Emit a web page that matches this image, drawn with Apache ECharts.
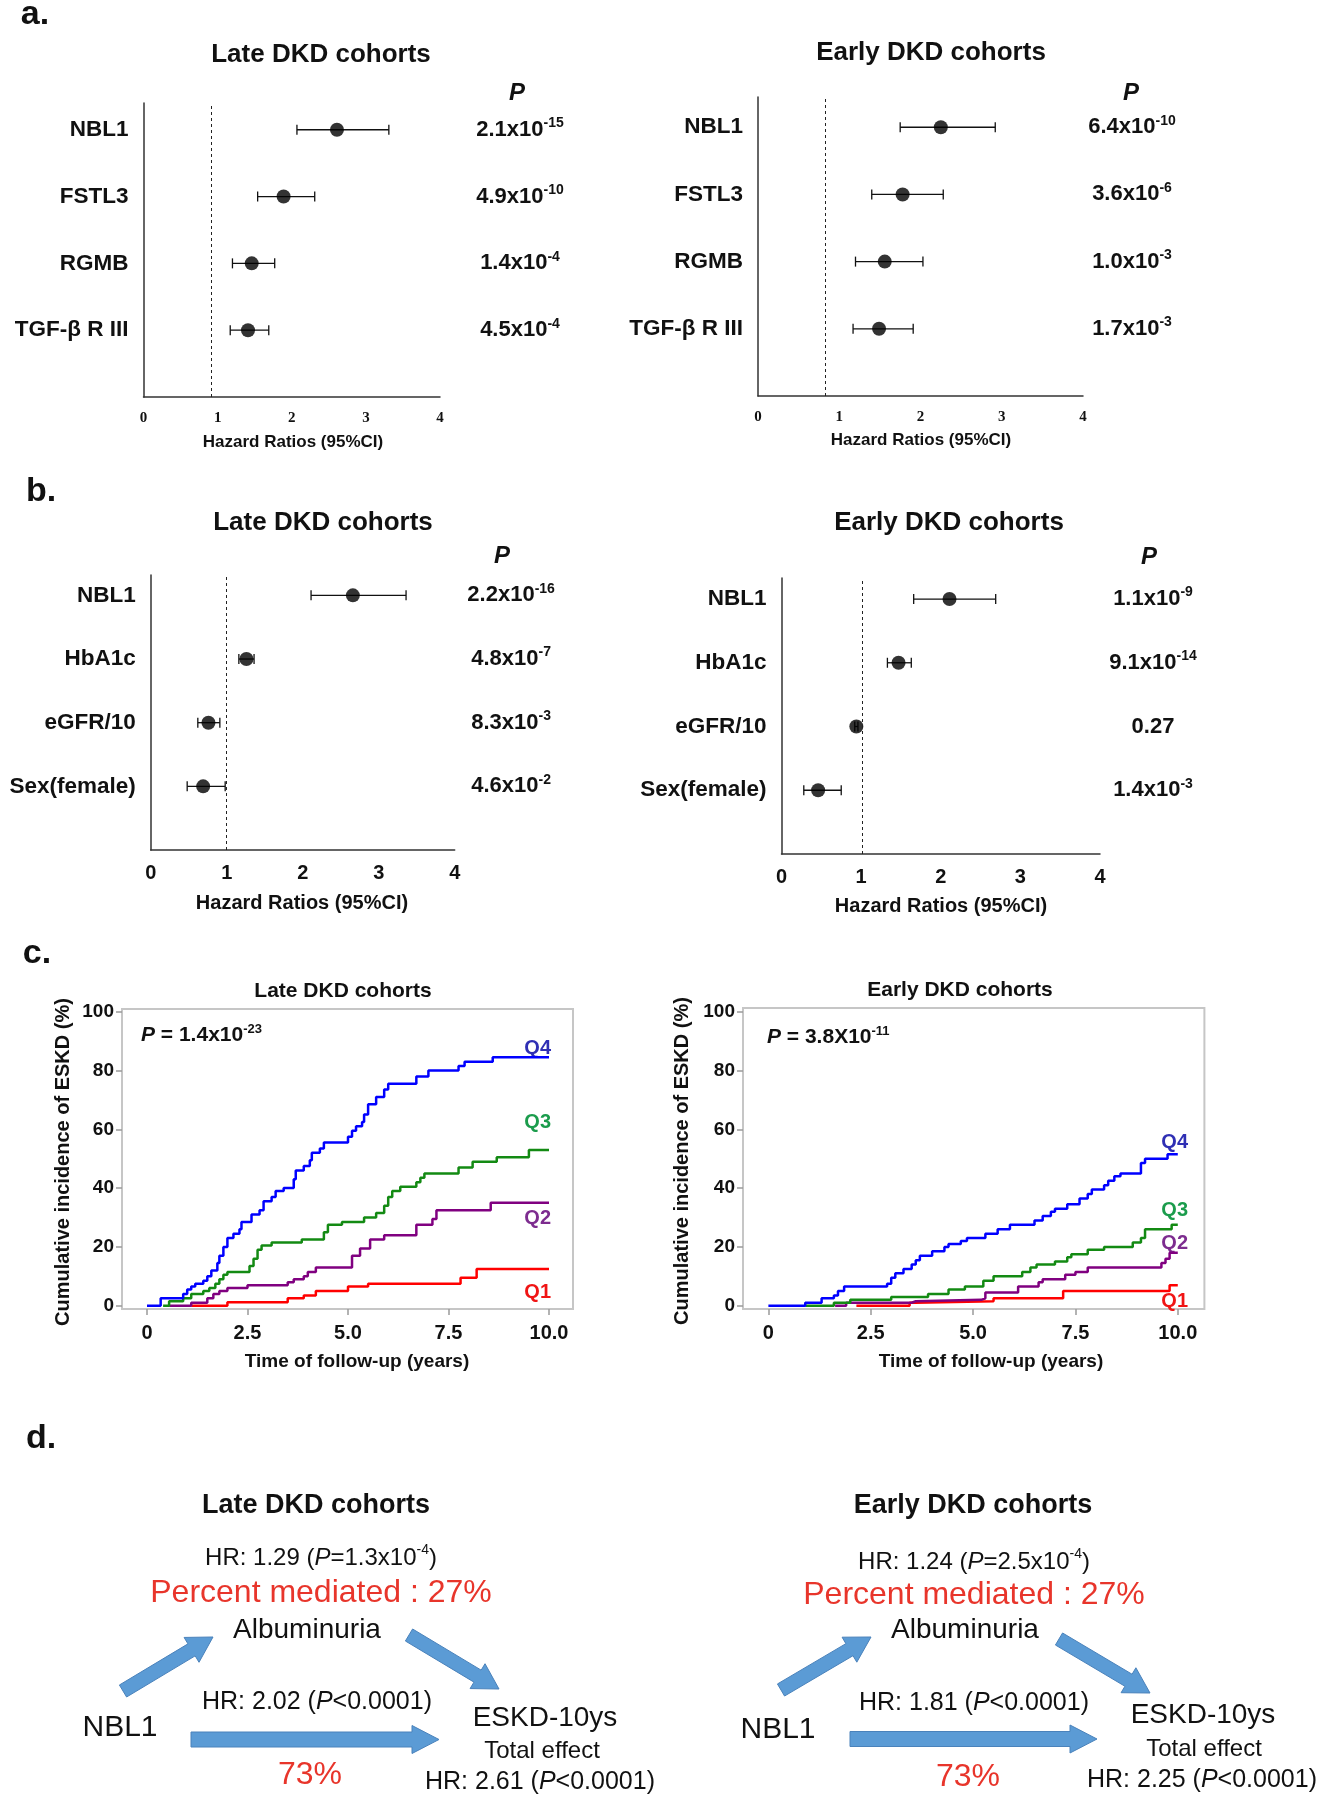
<!DOCTYPE html>
<html><head><meta charset="utf-8">
<script src="https://cdn.jsdelivr.net/npm/echarts@6/dist/echarts.min.js"></script>
<style>html,body{margin:0;padding:0;background:#fff}#c{width:1324px;height:1800px}</style>
</head><body><div id="c"></div>
<script>
// ---------- DATA ----------
const namesA = ['NBL1', 'FSTL3', 'RGMB', 'TGF-β R III'];
const namesB = ['NBL1', 'HbA1c', 'eGFR/10', 'Sex(female)'];
const rowPos = [4, 3, 2, 1];

const aLateHR = [2.61, 1.89, 1.46, 1.41];
const aLateLo = [2.07, 1.54, 1.20, 1.17];
const aLateHi = [3.31, 2.31, 1.77, 1.69];
const aLateP = ['2.1x10^-15', '4.9x10^-10', '1.4x10^-4', '4.5x10^-4'];
const aLateRef = 0.91;

const aEarlyHR = [2.25, 1.78, 1.56, 1.49];
const aEarlyLo = [1.75, 1.40, 1.20, 1.17];
const aEarlyHi = [2.92, 2.28, 2.03, 1.91];
const aEarlyP = ['6.4x10^-10', '3.6x10^-6', '1.0x10^-3', '1.7x10^-3'];
const aEarlyRef = 0.83;

const bLateHR = [2.66, 1.26, 0.76, 0.69];
const bLateLo = [2.11, 1.16, 0.62, 0.48];
const bLateHi = [3.36, 1.36, 0.91, 0.98];
const bLateP = ['2.2x10^-16', '4.8x10^-7', '8.3x10^-3', '4.6x10^-2'];
const bLateRef = 1.0;

const bEarlyHR = [2.11, 1.47, 0.94, 0.46];
const bEarlyLo = [1.66, 1.33, 0.92, 0.28];
const bEarlyHi = [2.69, 1.63, 0.96, 0.75];
const bEarlyP = ['1.1x10^-9', '9.1x10^-14', '0.27', '1.4x10^-3'];
const bEarlyRef = 1.02;

const kmXTicks = [0, 2.5, 5, 7.5, 10];
const kmYTicks = [0, 20, 40, 60, 80, 100];
const kmQuartiles = ['Q4', 'Q3', 'Q2', 'Q1'];
const lateQ4 = [[0,0],[0.34,2.5],[0.9,4],[1.0,5.5],[1.1,6.5],[1.2,7.5],[1.4,8.5],[1.5,10],[1.6,12],[1.75,14.5],[1.8,17],[1.9,20],[2.0,23],[2.15,24.5],[2.3,26],[2.35,28.5],[2.6,31],[2.8,32.5],[2.9,35.5],[3.1,37],[3.2,39],[3.4,40],[3.65,43],[3.7,46],[3.9,47.5],[4.05,49.5],[4.1,52],[4.3,53.5],[4.4,55.5],[5.0,57.5],[5.1,59.5],[5.2,61],[5.35,62.5],[5.4,65],[5.5,68.5],[5.7,71],[5.9,73.5],[6.0,75.5],[6.7,78],[7.0,80],[7.75,81.5],[7.9,83],[8.6,84.5],[10,84.5]];
const lateQ3 = [[0.4,0],[0.55,1.5],[0.9,2.5],[1.1,4],[1.4,5],[1.55,6],[1.7,7.5],[1.8,9],[1.9,10.5],[2.0,11.5],[2.55,13.5],[2.65,16],[2.75,19],[2.85,20.5],[3.1,21.5],[3.85,22.5],[4.4,25],[4.5,27.5],[4.85,28.5],[5.4,30],[5.7,31.5],[5.9,34],[6.0,37],[6.1,39],[6.3,40.5],[6.7,42],[6.8,43.5],[6.9,45],[7.75,47],[8.1,49],[8.7,50.5],[9.5,53],[10,53]];
const lateQ2 = [[0.55,0],[1.1,1],[1.5,2.5],[1.65,4],[1.8,5],[2.0,6],[2.5,7],[3.5,8],[3.65,9],[3.9,10],[4.0,11.5],[4.2,13],[5.1,17],[5.3,19.5],[5.55,22.5],[5.9,24],[6.7,27.5],[7.1,29.5],[7.2,32.5],[8.55,35],[10,35]];
const lateQ1 = [[1.1,0],[2.0,1.2],[3.5,2.5],[3.9,3.5],[4.2,5],[5.0,6.5],[5.5,7.5],[7.8,9.5],[8.2,12.5],[10,12.5]];

const earlyQ4 = [[0,0],[0.9,1],[1.3,2.5],[1.6,3.5],[1.7,5],[1.85,6.5],[2.9,7.5],[3.0,9.5],[3.1,11],[3.3,12.5],[3.5,14],[3.6,15.5],[3.7,17],[4.0,18.5],[4.3,20],[4.4,21],[4.7,22],[4.85,23],[5.3,24.5],[5.6,26],[5.9,27.5],[6.5,29],[6.7,30.5],[6.9,32],[7.0,33],[7.3,34.5],[7.6,36.5],[7.8,38],[7.9,39.5],[8.2,41],[8.3,42.5],[8.45,44],[8.6,45],[9.1,48.5],[9.2,50],[9.75,51.5],[10,51.5]];
const earlyQ3 = [[0.9,0],[1.6,1],[2.0,2],[3.0,3],[3.9,4],[4.4,5.5],[4.8,6.5],[5.25,8.5],[5.5,10],[6.2,11.5],[6.4,13],[6.55,14],[7.0,15],[7.3,16.5],[7.4,17.5],[7.8,19],[8.2,20],[8.9,21.5],[9.1,23],[9.2,26],[9.85,27.5],[10,27.5]];
const earlyQ2 = [[1.63,0],[1.9,1],[3.5,1.5],[3.6,2],[5.2,2.5],[5.3,4.5],[6.1,6.5],[6.6,8],[6.7,9],[7.25,10.5],[7.5,11.5],[7.8,13],[9.6,14.5],[9.7,16],[9.8,18],[10,18]];
const earlyQ1 = [[2.15,0],[3.45,1],[3.6,1.5],[5.5,2.5],[7.2,5],[9.8,7],[10,7]];

// ---------- STYLE ----------
const FONT = '"Liberation Sans", Arial, Helvetica, sans-serif';
const SERIF = '"Liberation Serif", "Times New Roman", serif';
const kmLineColors = ['#0000ff', '#138a13', '#800080', '#ff0000'];
const kmLabelColors = ['#2f2fb4', '#1b9c4c', '#7d2c8f', '#f01414'];
const RED = '#e8352b';

function forestX(gi, serif) {
  return {gridIndex: gi, type: 'value', min: 0, max: 4, interval: 1,
    axisLine: {show: true, lineStyle: {color: '#333', width: 1.5}},
    axisTick: {show: false}, splitLine: {show: false},
    axisLabel: {margin: serif ? 14 : 13, fontSize: serif ? 15 : 20, fontWeight: 'bold', color: '#111', fontFamily: serif ? SERIF : FONT}};
}
function forestY(gi, max, names) {
  return {gridIndex: gi, type: 'value', min: 0, max: max, interval: 1,
    axisLine: {show: true, onZero: false, lineStyle: {color: '#333', width: 1.5}},
    axisTick: {show: false}, splitLine: {show: false},
    axisLabel: {margin: 15, fontSize: 22.5, fontWeight: 'bold', color: '#111', fontFamily: FONT,
      formatter: v => { const i = rowPos.indexOf(v); return i >= 0 ? names[i] : ''; }}};
}
function pAxis(gi, max, pList, offset) {
  return {gridIndex: gi, type: 'value', position: 'right', offset: offset, min: 0, max: max, interval: 1,
    axisLine: {show: false}, axisTick: {show: false}, splitLine: {show: false},
    axisLabel: {margin: 0, align: 'center',
      formatter: v => {
        const i = rowPos.indexOf(v); if (i < 0) return '';
        const parts = pList[i].split('^');
        return parts.length > 1 ? '{b|' + parts[0] + '}{s|' + parts[1] + '}' : '{b|' + parts[0] + '}';
      },
      rich: {
        b: {fontSize: 22, fontWeight: 'bold', fontFamily: FONT, color: '#111', lineHeight: 27},
        s: {fontSize: 14, fontWeight: 'bold', fontFamily: FONT, color: '#111', lineHeight: 15, verticalAlign: 'top'}
      }}};
}
function errorBars(gi, lo, hi) {
  return {type: 'custom', xAxisIndex: gi, yAxisIndex: gi, silent: true, z: 2,
    data: lo.map((l, i) => [l, hi[i], rowPos[i]]),
    encode: {x: [0, 1], y: 2},
    renderItem: (params, api) => {
      const y = api.value(2);
      const a = api.coord([api.value(0), y]);
      const b = api.coord([api.value(1), y]);
      const st = () => ({stroke: '#111', lineWidth: 1.3});
      return {type: 'group', children: [
        {type: 'line', shape: {x1: a[0], y1: a[1], x2: b[0], y2: b[1]}, style: st()},
        {type: 'line', shape: {x1: a[0], y1: a[1] - 5, x2: a[0], y2: a[1] + 5}, style: st()},
        {type: 'line', shape: {x1: b[0], y1: b[1] - 5, x2: b[0], y2: b[1] + 5}, style: st()}
      ]};
    }};
}
function points(gi, hr, ref) {
  return {type: 'scatter', xAxisIndex: gi, yAxisIndex: gi, z: 3, symbolSize: 14,
    itemStyle: {color: '#000'},
    data: hr.map((h, i) => [h, rowPos[i]]),
    markLine: {silent: true, symbol: 'none', label: {show: false},
      lineStyle: {color: '#222', type: [3, 3], width: 1}, data: [{xAxis: ref}]}};
}
function kmX(gi, min, max) {
  return {gridIndex: gi, type: 'value', min: min, max: max,
    axisLine: {show: false, onZero: false}, splitLine: {show: false},
    axisTick: {show: true, length: 6, customValues: kmXTicks, lineStyle: {color: '#9a9a9a', width: 1.5}},
    axisLabel: {customValues: kmXTicks, margin: 14, fontSize: 20, fontWeight: 'bold', color: '#111', fontFamily: FONT,
      formatter: v => v === 0 ? '0' : v.toFixed(1)}};
}
function kmY(gi, min, max) {
  return {gridIndex: gi, type: 'value', min: min, max: max,
    axisLine: {show: false, onZero: false}, splitLine: {show: false},
    axisTick: {show: true, length: 6, customValues: kmYTicks, lineStyle: {color: '#9a9a9a', width: 1.5}},
    axisLabel: {customValues: kmYTicks, margin: 8, fontSize: 19, fontWeight: 'bold', color: '#111', fontFamily: FONT}};
}
function kmLine(gi, data, idx) {
  return {type: 'line', xAxisIndex: gi, yAxisIndex: gi + 4, step: 'end', showSymbol: false, symbol: 'none',
    data: data, lineStyle: {color: kmLineColors[idx], width: 2.5}, itemStyle: {color: kmLineColors[idx]}, silent: true};
}

// ---------- GRAPHIC HELPERS ----------
function tok(size, color, bold, italic, sup) {
  const o = {fontSize: size, fontFamily: FONT, fontWeight: bold ? 'bold' : 'normal', fontStyle: italic ? 'italic' : 'normal', fill: color};
  if (sup) { o.verticalAlign = 'top'; o.lineHeight = size + 1; } else { o.lineHeight = Math.round(size * 1.2); }
  return o;
}
function richSet(size, color, bold) {
  return {n: tok(size, color, bold, false, false), i: tok(size, color, bold, true, false), s: tok(Math.round(size * 0.6), color, bold, false, true)};
}
function T(x, y, text, size, o) {
  o = o || {};
  const style = {text: text, fontSize: size, fontFamily: o.family || FONT, fontWeight: o.bold ? 'bold' : 'normal',
    fontStyle: o.italic ? 'italic' : 'normal', fill: o.color || '#111', align: o.align || 'center', verticalAlign: 'middle'};
  if (o.rich) style.rich = richSet(size, o.color || '#111', o.bold);
  const el = {type: 'text', x: x, y: y, style: style, silent: true};
  if (o.rotation) el.rotation = o.rotation;
  return el;
}
function arrow(tail, tip, sw, hw, hl) {
  const dx = tip[0] - tail[0], dy = tip[1] - tail[1];
  const L = Math.sqrt(dx * dx + dy * dy);
  const ux = dx / L, uy = dy / L, px = -uy, py = ux;
  const bx = tip[0] - ux * hl, by = tip[1] - uy * hl;
  const pts = [
    [tail[0] + px * sw / 2, tail[1] + py * sw / 2],
    [bx + px * sw / 2, by + py * sw / 2],
    [bx + px * hw / 2, by + py * hw / 2],
    [tip[0], tip[1]],
    [bx - px * hw / 2, by - py * hw / 2],
    [bx - px * sw / 2, by - py * sw / 2],
    [tail[0] - px * sw / 2, tail[1] - py * sw / 2]
  ];
  return {type: 'polygon', shape: {points: pts}, style: {fill: '#5b9bd5', stroke: '#4a82bb', lineWidth: 1}, silent: true};
}

const graphics = [
  // section letters
  T(35, 15, 'a.', 34, {bold: true}),
  T(41, 492, 'b.', 34, {bold: true}),
  T(37, 954, 'c.', 34, {bold: true}),
  T(41, 1439, 'd.', 34, {bold: true}),
  // panel a
  T(321, 55, 'Late DKD cohorts', 26, {bold: true}),
  T(931, 53, 'Early DKD cohorts', 26, {bold: true}),
  T(517, 93, 'P', 24, {bold: true, italic: true}),
  T(1131, 93, 'P', 24, {bold: true, italic: true}),
  T(293, 442, 'Hazard Ratios (95%CI)', 17, {bold: true}),
  T(921, 440, 'Hazard Ratios (95%CI)', 17, {bold: true}),
  // panel b
  T(323, 523, 'Late DKD cohorts', 26, {bold: true}),
  T(949, 523, 'Early DKD cohorts', 26, {bold: true}),
  T(502, 556, 'P', 24, {bold: true, italic: true}),
  T(1149, 557, 'P', 24, {bold: true, italic: true}),
  T(302, 903, 'Hazard Ratios (95%CI)', 20, {bold: true}),
  T(941, 906, 'Hazard Ratios (95%CI)', 20, {bold: true}),
  // panel c
  T(343, 991, 'Late DKD cohorts', 21, {bold: true}),
  T(960, 990, 'Early DKD cohorts', 21, {bold: true}),
  T(141, 1035, '{i|P}{n| = 1.4x10}{s|-23}', 21, {bold: true, rich: true, align: 'left'}),
  T(767, 1037, '{i|P}{n| = 3.8X10}{s|-11}', 21, {bold: true, rich: true, align: 'left'}),
  T(63, 1162, 'Cumulative incidence of ESKD (%)', 20, {bold: true, rotation: Math.PI / 2}),
  T(682, 1161, 'Cumulative incidence of ESKD (%)', 20, {bold: true, rotation: Math.PI / 2}),
  T(357, 1362, 'Time of follow-up (years)', 19, {bold: true}),
  T(991, 1362, 'Time of follow-up (years)', 19, {bold: true}),
  T(551, 1048, kmQuartiles[0], 20, {bold: true, align: 'right', color: kmLabelColors[0]}),
  T(551, 1122, kmQuartiles[1], 20, {bold: true, align: 'right', color: kmLabelColors[1]}),
  T(551, 1218, kmQuartiles[2], 20, {bold: true, align: 'right', color: kmLabelColors[2]}),
  T(551, 1292, kmQuartiles[3], 20, {bold: true, align: 'right', color: kmLabelColors[3]}),
  T(1188, 1142, kmQuartiles[0], 20, {bold: true, align: 'right', color: kmLabelColors[0]}),
  T(1188, 1210, kmQuartiles[1], 20, {bold: true, align: 'right', color: kmLabelColors[1]}),
  T(1188, 1243, kmQuartiles[2], 20, {bold: true, align: 'right', color: kmLabelColors[2]}),
  T(1188, 1301, kmQuartiles[3], 20, {bold: true, align: 'right', color: kmLabelColors[3]}),
  // panel d - left
  arrow([123, 1691], [213, 1637], 14, 29, 25),
  arrow([409, 1635], [499, 1689], 14, 29, 25),
  arrow([191, 1739.5], [439, 1739.5], 15, 28, 27),
  T(316, 1506, 'Late DKD cohorts', 27, {bold: true}),
  T(321, 1558, '{n|HR: 1.29 (}{i|P}{n|=1.3x10}{s|-4}{n|)}', 24, {rich: true}),
  T(321, 1593, 'Percent mediated : 27%', 32, {color: RED}),
  T(307, 1630, 'Albuminuria', 28),
  T(120, 1728, 'NBL1', 30),
  T(317, 1702, '{n|HR: 2.02 (}{i|P}{n|<0.0001)}', 25, {rich: true}),
  T(545, 1718, 'ESKD-10ys', 28),
  T(542, 1751, 'Total effect', 24),
  T(540, 1782, '{n|HR: 2.61 (}{i|P}{n|<0.0001)}', 25, {rich: true}),
  T(310, 1775, '73%', 32, {color: RED}),
  // panel d - right
  arrow([781, 1690], [871, 1637], 14, 29, 25),
  arrow([1059, 1639], [1150, 1693], 14, 29, 25),
  arrow([850, 1739], [1097, 1739], 15, 28, 27),
  T(973, 1506, 'Early DKD cohorts', 27, {bold: true}),
  T(974, 1562, '{n|HR: 1.24 (}{i|P}{n|=2.5x10}{s|-4}{n|)}', 24, {rich: true}),
  T(974, 1595, 'Percent mediated : 27%', 32, {color: RED}),
  T(965, 1630, 'Albuminuria', 28),
  T(778, 1730, 'NBL1', 30),
  T(974, 1703, '{n|HR: 1.81 (}{i|P}{n|<0.0001)}', 25, {rich: true}),
  T(1203, 1715, 'ESKD-10ys', 28),
  T(1204, 1749, 'Total effect', 24),
  T(1202, 1780, '{n|HR: 2.25 (}{i|P}{n|<0.0001)}', 25, {rich: true}),
  T(968, 1777, '73%', 32, {color: RED})
];

const G = (o) => Object.assign({containLabel: false, outerBoundsMode: 'none'}, o);

const option = {
  animation: false,
  backgroundColor: '#fff',
  grid: [
    G({left: 143.5, top: 103, width: 296.5, height: 294}),
    G({left: 758, top: 97, width: 325, height: 299}),
    G({left: 150.7, top: 575, width: 304, height: 275}),
    G({left: 781.5, top: 578, width: 318.5, height: 276}),
    G({left: 122, top: 1009, width: 451, height: 300, show: true, borderColor: '#c6c6c6', borderWidth: 2, backgroundColor: 'transparent'}),
    G({left: 743, top: 1008, width: 461.4, height: 301, show: true, borderColor: '#c6c6c6', borderWidth: 2, backgroundColor: 'transparent'})
  ],
  xAxis: [
    forestX(0, true), forestX(1, true), forestX(2, false), forestX(3, false),
    kmX(4, -0.622, 10.597), kmX(5, -0.62, 10.65)
  ],
  yAxis: [
    forestY(0, 4.4, namesA), forestY(1, 4.45, namesA), forestY(2, 4.32, namesB), forestY(3, 4.33, namesB),
    pAxis(0, 4.4, aLateP, 80), pAxis(1, 4.45, aEarlyP, 49), pAxis(2, 4.32, bLateP, 56.4), pAxis(3, 4.33, bEarlyP, 53),
    kmY(4, -1.12, 100.92), kmY(5, -1.12, 101.26)
  ],
  series: [
    errorBars(0, aLateLo, aLateHi), points(0, aLateHR, aLateRef),
    errorBars(1, aEarlyLo, aEarlyHi), points(1, aEarlyHR, aEarlyRef),
    errorBars(2, bLateLo, bLateHi), points(2, bLateHR, bLateRef),
    errorBars(3, bEarlyLo, bEarlyHi), points(3, bEarlyHR, bEarlyRef),
    kmLine(4, lateQ1, 3), kmLine(4, lateQ2, 2), kmLine(4, lateQ3, 1), kmLine(4, lateQ4, 0),
    kmLine(5, earlyQ1, 3), kmLine(5, earlyQ2, 2), kmLine(5, earlyQ3, 1), kmLine(5, earlyQ4, 0)
  ],
  graphic: graphics
};

const chart = echarts.init(document.getElementById('c'), null, {renderer: 'canvas', width: 1324, height: 1800});
chart.setOption(option);
</script></body></html>
